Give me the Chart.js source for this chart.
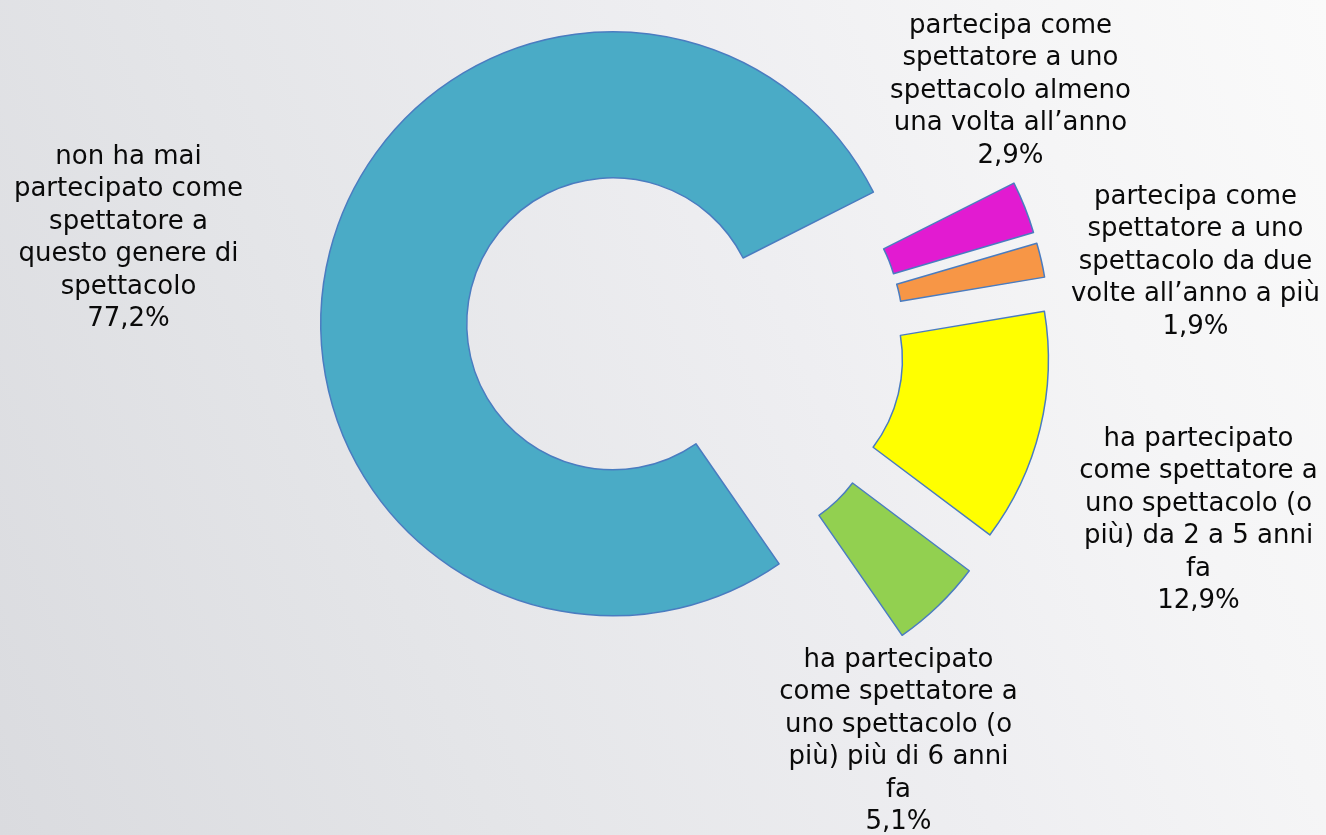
<!DOCTYPE html>
<html lang="it">
<head>
<meta charset="utf-8">
<title>Partecipazione come spettatore</title>
<script src="https://cdn.jsdelivr.net/npm/chart.js@4.4.1/dist/chart.umd.min.js"></script>
<style>
  html, body { margin: 0; padding: 0; }
  body {
    width: 1326px;
    height: 835px;
    overflow: hidden;
    background: linear-gradient(68deg, #dadbdf 0%, #e4e5e8 30%, #eeeef1 60%, #f5f5f6 80%, #fafafa 100%);
  }
  #wrap { position: relative; width: 1326px; height: 835px; }
</style>
</head>
<body>
<div id="wrap"><canvas id="chart" width="1326" height="835"></canvas></div>
<script>
// categories (already wrapped the way the labels show them)
const categories = [
  ['partecipa come', 'spettatore a uno', 'spettacolo almeno', 'una volta all\u2019anno'],
  ['partecipa come', 'spettatore a uno', 'spettacolo da due', 'volte all\u2019anno a più'],
  ['ha partecipato', 'come spettatore a', 'uno spettacolo (o', 'più) da 2 a 5 anni', 'fa'],
  ['ha partecipato', 'come spettatore a', 'uno spettacolo (o', 'più) più di 6 anni', 'fa'],
  ['non ha mai', 'partecipato come', 'spettatore a', 'questo genere di', 'spettacolo']
];
const values = [2.9, 1.9, 12.9, 5.1, 77.2];
const colors = ['#e21bd1', '#f79646', '#ffff00', '#92d050', '#4aabc6'];

// label placement, relative to the doughnut centre (centre x, first baseline)
const labelOffsets = [[326, -309], [511, -138], [514, 104], [214, 325], [-556, -178]];
const LINE_H = 32.4;
const EXPLODE = 74; // every slice pulled out from the centre

// arc that is moved out along its bisector without changing its radii
class ExplodedArc extends Chart.ArcElement {
  draw(ctx) {
    const mid = (this.startAngle + this.endAngle) / 2;
    ctx.save();
    ctx.translate(Math.cos(mid) * EXPLODE, Math.sin(mid) * EXPLODE);
    super.draw(ctx);
    ctx.restore();
  }
}
ExplodedArc.id = 'explodedArc';
ExplodedArc.defaults = Chart.ArcElement.defaults;
ExplodedArc.defaultRoutes = Chart.ArcElement.defaultRoutes;
Chart.register(ExplodedArc);
Chart.defaults.datasets.doughnut.dataElementType = 'explodedArc';

const pct = v => v.toFixed(1).replace('.', ',') + '%';

const outsideLabels = {
  id: 'outsideLabels',
  afterDatasetsDraw(chart) {
    const ctx = chart.ctx;
    const arcs = chart.getDatasetMeta(0).data;
    const cx = arcs[0].x, cy = arcs[0].y;
    ctx.save();
    ctx.font = '26px "DejaVu Sans", Verdana, sans-serif';
    ctx.fillStyle = '#0a0a0a';
    ctx.textAlign = 'center';
    ctx.textBaseline = 'alphabetic';
    chart.data.labels.forEach((lines, i) => {
      const all = lines.concat([pct(chart.data.datasets[0].data[i])]);
      const x = cx + labelOffsets[i][0];
      const y0 = cy + labelOffsets[i][1];
      all.forEach((t, k) => ctx.fillText(t, x, y0 + k * LINE_H));
    });
    ctx.restore();
  }
};

new Chart(document.getElementById('chart'), {
  type: 'doughnut',
  data: {
    labels: categories,
    datasets: [{
      data: values,
      backgroundColor: colors,
      borderColor: '#4a7cc0',
      borderWidth: 1.5,
      borderJoinStyle: 'round'
    }]
  },
  options: {
    responsive: false,
    animation: false,
    rotation: 63.2,
    cutout: '50%',
    radius: 292,
    layout: { padding: { left: 43, right: 0, top: 0, bottom: 151 } },
    plugins: {
      legend: { display: false },
      tooltip: { enabled: false }
    }
  },
  plugins: [outsideLabels]
});
</script>
</body>
</html>
